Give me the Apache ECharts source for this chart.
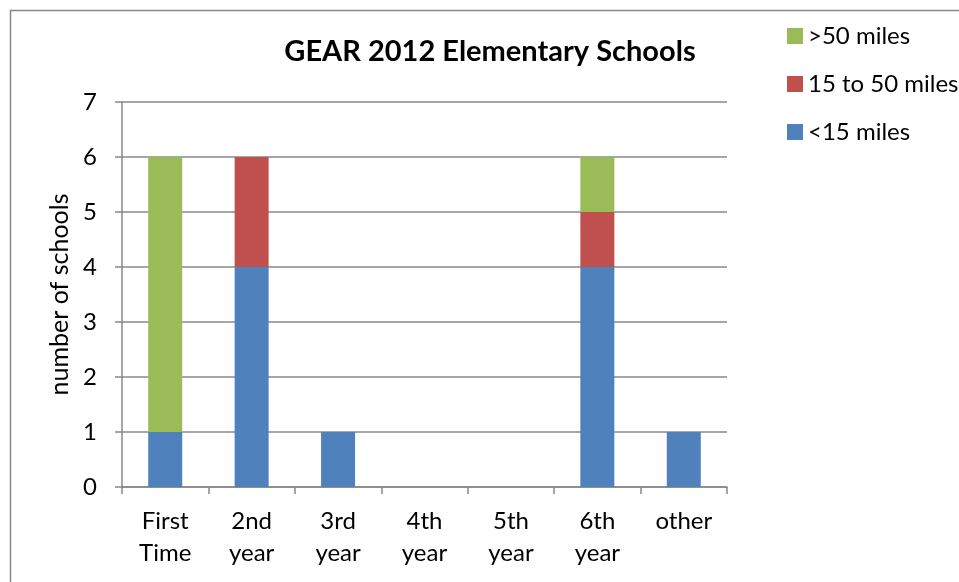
<!DOCTYPE html>
<html>
<head>
<meta charset="utf-8">
<script src="https://cdn.jsdelivr.net/npm/echarts@6/dist/echarts.min.js"></script>
<style>
  html, body { margin: 0; padding: 0; background: #fff; }
  #chart { width: 959px; height: 582px; }
</style>
</head>
<body>
<div id="chart"></div>
<script>
// School experience categories along the x-axis
const categories = ['First\nTime', '2nd\nyear', '3rd\nyear', '4th\nyear', '5th\nyear', '6th\nyear', 'other'];

// Number of schools by travel distance
const under15 = [1, 4, 1, 0, 0, 4, 1];
const from15to50 = [0, 2, 0, 0, 0, 1, 0];
const over50 = [5, 0, 0, 0, 0, 1, 0];

const yTicks = [0, 1, 2, 3, 4, 5, 6, 7];

const FONT = 'Lato, "Open Sans", sans-serif';

const chart = echarts.init(document.getElementById('chart'), null, { renderer: 'canvas' });

chart.setOption({
  animation: false,
  textStyle: { fontFamily: FONT },
  title: {
    text: 'GEAR 2012 Elementary Schools',
    left: 485,
    top: 32,
    textAlign: 'center',
    textStyle: { fontFamily: FONT, fontSize: 29, fontWeight: 'bold', color: '#000' }
  },
  graphic: [{
    type: 'rect',
    shape: { x: 10.5, y: 10.5, width: 1000, height: 1000 },
    style: { fill: 'none', stroke: '#888', lineWidth: 1.5 },
    silent: true
  }],
  legend: {
    orient: 'vertical',
    left: 782,
    top: 19,
    itemWidth: 16,
    itemHeight: 16,
    itemGap: 24,
    icon: 'rect',
    textStyle: { fontFamily: FONT, fontSize: 24, color: '#000' },
    data: ['>50 miles', '15 to 50 miles', '<15 miles']
  },
  grid: { left: 122, top: 102, width: 605, height: 385, containLabel: false },
  xAxis: {
    type: 'category',
    data: categories,
    axisLine: { lineStyle: { color: '#888', width: 1.5 } },
    axisTick: { show: true, length: 7, lineStyle: { color: '#888', width: 1.5 } },
    axisLabel: { fontFamily: FONT, fontSize: 24, color: '#000', margin: 18, lineHeight: 32 }
  },
  yAxis: {
    type: 'value',
    min: yTicks[0],
    max: yTicks[yTicks.length - 1],
    interval: 1,
    name: 'number of schools',
    nameLocation: 'middle',
    nameGap: 48,
    nameRotate: 90,
    nameTextStyle: { fontFamily: FONT, fontSize: 25, color: '#000' },
    axisLine: { show: true, lineStyle: { color: '#888', width: 1.5 } },
    axisTick: { show: true, length: 7, lineStyle: { color: '#888', width: 1.5 } },
    axisLabel: { fontFamily: FONT, fontSize: 24, color: '#000', margin: 25 },
    splitLine: { lineStyle: { color: '#888', width: 1.5 } }
  },
  series: [
    { name: '<15 miles', type: 'bar', stack: 'total', data: under15, barWidth: 34,
      itemStyle: { color: '#4F81BD' } },
    { name: '15 to 50 miles', type: 'bar', stack: 'total', data: from15to50, barWidth: 34,
      itemStyle: { color: '#C0504D' } },
    { name: '>50 miles', type: 'bar', stack: 'total', data: over50, barWidth: 34,
      itemStyle: { color: '#9BBB59' } }
  ]
});
</script>
</body>
</html>
